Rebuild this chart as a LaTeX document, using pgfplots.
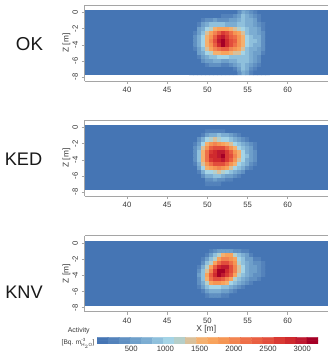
\documentclass[border=0pt]{standalone}
\usepackage{fontspec}
\setmainfont{Liberation Sans}
\usepackage{pgfplots}
\pgfplotsset{compat=1.18}
\definecolor{bgblue}{RGB}{69,117,180}
\definecolor{axgray}{RGB}{165,165,165}
\definecolor{txt}{RGB}{55,55,55}
\pgfplotsset{
 colormap={act}{rgb255=(69,117,180) rgb255=(83,130,187) rgb255=(96,144,194) rgb255=(110,159,202) rgb255=(124,173,210) rgb255=(143,192,220) rgb255=(165,212,230) rgb255=(181,207,202) rgb255=(217,192,154) rgb255=(244,176,111) rgb255=(248,163,92) rgb255=(245,149,83) rgb255=(242,132,80) rgb255=(238,111,72) rgb255=(233,95,66) rgb255=(226,78,60) rgb255=(217,58,52) rgb255=(207,42,46) rgb255=(191,26,48) rgb255=(165,0,38)},
 panel/.style={
  at={(84.5pt,#1)}, anchor=south west, scale only axis, width=243.5pt, height=76pt,
  xmin=34.71, xmax=65.01, ymin=-8.5, ymax=0.95,
  xtick={40,45,50,55,60}, ytick={0,-2,-4,-6,-8},
  axis x line=box, axis y line*=left,
  axis line style={draw=axgray, line width=0.7pt},
  tick style={draw=axgray, line width=0.6pt}, tick align=outside,
  major tick length=3pt,
  xtick pos=bottom, ytick pos=left,
  tick label style={font=\fontsize{7.7}{9}\selectfont, text=txt},
  /pgf/number format/assume math mode=true,
  yticklabel style={rotate=90, anchor=south, xshift=0pt},
  xticklabel style={yshift=0.5pt},
  ylabel={Z [m]}, ylabel style={font=\fontsize{8.3}{10}\selectfont, text=txt, at={(axis description cs:-0.0745,0.5)}, anchor=center, rotate=0},
  colormap name=act, colormap access=piecewise constant,
  point meta min=0, point meta max=3230,
 },
 heatcells/.style={matrix plot*, mesh/cols=20, point meta=explicit, forget plot},
}
\begin{document}
\begin{tikzpicture}[x=1pt,y=1pt]
\path[use as bounding box] (0,0) rectangle (328,355);

\begin{axis}[panel=274pt]
\addplot[fill=bgblue, draw=none, forget plot] coordinates {(34.71,0.3)(65.01,0.3)(65.01,-7.8)(34.71,-7.8)} --cycle;
\addplot[heatcells] table[row sep=\\, meta=c]{x y c\\
48 0 80\\48.5 0 80\\49 0 80\\49.5 0 80\\50 0 80\\50.5 0 80\\51 0 80\\51.5 0 80\\52 0 80\\52.5 0 80\\53 0 80\\53.5 0 80\\54 0 400\\54.5 0 730\\55 0 560\\55.5 0 400\\56 0 240\\56.5 0 80\\57 0 80\\57.5 0 80\\
48 -0.5 80\\48.5 -0.5 80\\49 -0.5 80\\49.5 -0.5 80\\50 -0.5 80\\50.5 -0.5 80\\51 -0.5 80\\51.5 -0.5 80\\52 -0.5 240\\52.5 -0.5 240\\53 -0.5 240\\53.5 -0.5 400\\54 -0.5 560\\54.5 -0.5 890\\55 -0.5 730\\55.5 -0.5 560\\56 -0.5 400\\56.5 -0.5 240\\57 -0.5 80\\57.5 -0.5 80\\
48 -1 80\\48.5 -1 80\\49 -1 80\\49.5 -1 240\\50 -1 400\\50.5 -1 400\\51 -1 560\\51.5 -1 400\\52 -1 400\\52.5 -1 400\\53 -1 560\\53.5 -1 560\\54 -1 730\\54.5 -1 890\\55 -1 730\\55.5 -1 730\\56 -1 560\\56.5 -1 240\\57 -1 80\\57.5 -1 80\\
48 -1.5 80\\48.5 -1.5 80\\49 -1.5 240\\49.5 -1.5 560\\50 -1.5 730\\50.5 -1.5 890\\51 -1.5 890\\51.5 -1.5 890\\52 -1.5 890\\52.5 -1.5 730\\53 -1.5 730\\53.5 -1.5 730\\54 -1.5 890\\54.5 -1.5 890\\55 -1.5 730\\55.5 -1.5 730\\56 -1.5 560\\56.5 -1.5 400\\57 -1.5 240\\57.5 -1.5 80\\
48 -2 80\\48.5 -2 80\\49 -2 560\\49.5 -2 730\\50 -2 1050\\50.5 -2 1210\\51 -2 1530\\51.5 -2 1700\\52 -2 1700\\52.5 -2 1700\\53 -2 1530\\53.5 -2 1370\\54 -2 1210\\54.5 -2 1050\\55 -2 890\\55.5 -2 730\\56 -2 730\\56.5 -2 560\\57 -2 240\\57.5 -2 80\\
48 -2.5 80\\48.5 -2.5 240\\49 -2.5 560\\49.5 -2.5 890\\50 -2.5 1370\\50.5 -2.5 1700\\51 -2.5 2020\\51.5 -2.5 2340\\52 -2.5 2670\\52.5 -2.5 2500\\53 -2.5 2180\\53.5 -2.5 1860\\54 -2.5 1700\\54.5 -2.5 1370\\55 -2.5 890\\55.5 -2.5 730\\56 -2.5 730\\56.5 -2.5 560\\57 -2.5 400\\57.5 -2.5 80\\
48 -3 80\\48.5 -3 400\\49 -3 730\\49.5 -3 1050\\50 -3 1530\\50.5 -3 1860\\51 -3 2340\\51.5 -3 2830\\52 -3 2990\\52.5 -3 2670\\53 -3 2340\\53.5 -3 2180\\54 -3 1860\\54.5 -3 1530\\55 -3 1050\\55.5 -3 890\\56 -3 730\\56.5 -3 730\\57 -3 400\\57.5 -3 80\\
48 -3.5 80\\48.5 -3.5 400\\49 -3.5 730\\49.5 -3.5 1050\\50 -3.5 1530\\50.5 -3.5 2020\\51 -3.5 2500\\51.5 -3.5 2990\\52 -3.5 3150\\52.5 -3.5 2830\\53 -3.5 2500\\53.5 -3.5 2340\\54 -3.5 1860\\54.5 -3.5 1530\\55 -3.5 1050\\55.5 -3.5 890\\56 -3.5 890\\56.5 -3.5 730\\57 -3.5 400\\57.5 -3.5 80\\
48 -4 80\\48.5 -4 400\\49 -4 730\\49.5 -4 1050\\50 -4 1530\\50.5 -4 1860\\51 -4 2340\\51.5 -4 2830\\52 -4 3150\\52.5 -4 2830\\53 -4 2500\\53.5 -4 2180\\54 -4 1860\\54.5 -4 1530\\55 -4 1050\\55.5 -4 890\\56 -4 730\\56.5 -4 730\\57 -4 400\\57.5 -4 80\\
48 -4.5 80\\48.5 -4.5 240\\49 -4.5 560\\49.5 -4.5 890\\50 -4.5 1370\\50.5 -4.5 1700\\51 -4.5 2020\\51.5 -4.5 2180\\52 -4.5 2340\\52.5 -4.5 2340\\53 -4.5 2020\\53.5 -4.5 1860\\54 -4.5 1700\\54.5 -4.5 1370\\55 -4.5 890\\55.5 -4.5 730\\56 -4.5 730\\56.5 -4.5 560\\57 -4.5 400\\57.5 -4.5 80\\
48 -5 80\\48.5 -5 80\\49 -5 560\\49.5 -5 730\\50 -5 1050\\50.5 -5 1210\\51 -5 1530\\51.5 -5 1530\\52 -5 1700\\52.5 -5 1700\\53 -5 1530\\53.5 -5 1370\\54 -5 1370\\54.5 -5 1050\\55 -5 890\\55.5 -5 730\\56 -5 560\\56.5 -5 560\\57 -5 240\\57.5 -5 80\\
48 -5.5 80\\48.5 -5.5 80\\49 -5.5 240\\49.5 -5.5 560\\50 -5.5 730\\50.5 -5.5 890\\51 -5.5 890\\51.5 -5.5 1050\\52 -5.5 1050\\52.5 -5.5 1050\\53 -5.5 890\\53.5 -5.5 890\\54 -5.5 890\\54.5 -5.5 890\\55 -5.5 890\\55.5 -5.5 730\\56 -5.5 560\\56.5 -5.5 400\\57 -5.5 80\\57.5 -5.5 80\\
48 -6 80\\48.5 -6 80\\49 -6 80\\49.5 -6 400\\50 -6 560\\50.5 -6 560\\51 -6 730\\51.5 -6 730\\52 -6 560\\52.5 -6 560\\53 -6 730\\53.5 -6 730\\54 -6 890\\54.5 -6 890\\55 -6 890\\55.5 -6 730\\56 -6 560\\56.5 -6 400\\57 -6 80\\57.5 -6 80\\
48 -6.5 80\\48.5 -6.5 80\\49 -6.5 80\\49.5 -6.5 80\\50 -6.5 240\\50.5 -6.5 400\\51 -6.5 400\\51.5 -6.5 400\\52 -6.5 240\\52.5 -6.5 240\\53 -6.5 400\\53.5 -6.5 560\\54 -6.5 730\\54.5 -6.5 890\\55 -6.5 730\\55.5 -6.5 560\\56 -6.5 400\\56.5 -6.5 240\\57 -6.5 80\\57.5 -6.5 80\\
48 -7 80\\48.5 -7 80\\49 -7 80\\49.5 -7 80\\50 -7 80\\50.5 -7 80\\51 -7 80\\51.5 -7 80\\52 -7 80\\52.5 -7 80\\53 -7 80\\53.5 -7 240\\54 -7 560\\54.5 -7 890\\55 -7 730\\55.5 -7 400\\56 -7 240\\56.5 -7 80\\57 -7 80\\57.5 -7 80\\
48 -7.5 80\\48.5 -7.5 80\\49 -7.5 80\\49.5 -7.5 80\\50 -7.5 80\\50.5 -7.5 80\\51 -7.5 80\\51.5 -7.5 80\\52 -7.5 80\\52.5 -7.5 80\\53 -7.5 80\\53.5 -7.5 80\\54 -7.5 400\\54.5 -7.5 730\\55 -7.5 560\\55.5 -7.5 240\\56 -7.5 80\\56.5 -7.5 80\\57 -7.5 80\\57.5 -7.5 80\\
};
\end{axis}

\begin{axis}[panel=159pt]
\addplot[fill=bgblue, draw=none, forget plot] coordinates {(34.71,0.3)(65.01,0.3)(65.01,-7.8)(34.71,-7.8)} --cycle;
\addplot[heatcells] table[row sep=\\, meta=c]{x y c\\
48 -0.5 80\\48.5 -0.5 80\\49 -0.5 80\\49.5 -0.5 80\\50 -0.5 240\\50.5 -0.5 240\\51 -0.5 240\\51.5 -0.5 240\\52 -0.5 240\\52.5 -0.5 80\\53 -0.5 80\\53.5 -0.5 80\\54 -0.5 80\\54.5 -0.5 80\\55 -0.5 80\\55.5 -0.5 80\\56 -0.5 80\\56.5 -0.5 80\\57 -0.5 80\\57.5 -0.5 80\\
48 -1 80\\48.5 -1 80\\49 -1 80\\49.5 -1 240\\50 -1 560\\50.5 -1 730\\51 -1 730\\51.5 -1 890\\52 -1 730\\52.5 -1 730\\53 -1 560\\53.5 -1 400\\54 -1 240\\54.5 -1 80\\55 -1 80\\55.5 -1 80\\56 -1 80\\56.5 -1 80\\57 -1 80\\57.5 -1 80\\
48 -1.5 80\\48.5 -1.5 80\\49 -1.5 400\\49.5 -1.5 730\\50 -1.5 1050\\50.5 -1.5 1210\\51 -1.5 1370\\51.5 -1.5 1210\\52 -1.5 1050\\52.5 -1.5 1050\\53 -1.5 890\\53.5 -1.5 730\\54 -1.5 560\\54.5 -1.5 400\\55 -1.5 240\\55.5 -1.5 80\\56 -1.5 80\\56.5 -1.5 80\\57 -1.5 80\\57.5 -1.5 80\\
48 -2 80\\48.5 -2 240\\49 -2 560\\49.5 -2 1050\\50 -2 1530\\50.5 -2 1860\\51 -2 2020\\51.5 -2 1860\\52 -2 1700\\52.5 -2 1530\\53 -2 1370\\53.5 -2 1050\\54 -2 890\\54.5 -2 730\\55 -2 560\\55.5 -2 400\\56 -2 240\\56.5 -2 80\\57 -2 80\\57.5 -2 80\\
48 -2.5 80\\48.5 -2.5 400\\49 -2.5 730\\49.5 -2.5 1370\\50 -2.5 1860\\50.5 -2.5 2340\\51 -2.5 2500\\51.5 -2.5 2500\\52 -2.5 2500\\52.5 -2.5 2180\\53 -2.5 1860\\53.5 -2.5 1530\\54 -2.5 1050\\54.5 -2.5 890\\55 -2.5 730\\55.5 -2.5 560\\56 -2.5 240\\56.5 -2.5 80\\57 -2.5 80\\57.5 -2.5 80\\
48 -3 80\\48.5 -3 400\\49 -3 890\\49.5 -3 1530\\50 -3 2180\\50.5 -3 2670\\51 -3 2830\\51.5 -3 2990\\52 -3 2990\\52.5 -3 2670\\53 -3 2340\\53.5 -3 1860\\54 -3 1530\\54.5 -3 1050\\55 -3 730\\55.5 -3 560\\56 -3 400\\56.5 -3 80\\57 -3 80\\57.5 -3 80\\
48 -3.5 80\\48.5 -3.5 400\\49 -3.5 890\\49.5 -3.5 1530\\50 -3.5 2180\\50.5 -3.5 2830\\51 -3.5 2830\\51.5 -3.5 2990\\52 -3.5 3150\\52.5 -3.5 2670\\53 -3.5 2500\\53.5 -3.5 2020\\54 -3.5 1530\\54.5 -3.5 1050\\55 -3.5 890\\55.5 -3.5 560\\56 -3.5 400\\56.5 -3.5 80\\57 -3.5 80\\57.5 -3.5 80\\
48 -4 80\\48.5 -4 400\\49 -4 890\\49.5 -4 1530\\50 -4 2180\\50.5 -4 2670\\51 -4 2830\\51.5 -4 2830\\52 -4 2990\\52.5 -4 2670\\53 -4 2340\\53.5 -4 1860\\54 -4 1370\\54.5 -4 1050\\55 -4 730\\55.5 -4 560\\56 -4 400\\56.5 -4 80\\57 -4 80\\57.5 -4 80\\
48 -4.5 80\\48.5 -4.5 240\\49 -4.5 730\\49.5 -4.5 1370\\50 -4.5 1860\\50.5 -4.5 2180\\51 -4.5 2500\\51.5 -4.5 2500\\52 -4.5 2500\\52.5 -4.5 2180\\53 -4.5 1860\\53.5 -4.5 1530\\54 -4.5 1050\\54.5 -4.5 890\\55 -4.5 730\\55.5 -4.5 400\\56 -4.5 240\\56.5 -4.5 80\\57 -4.5 80\\57.5 -4.5 80\\
48 -5 80\\48.5 -5 80\\49 -5 560\\49.5 -5 1050\\50 -5 1530\\50.5 -5 1700\\51 -5 1860\\51.5 -5 2020\\52 -5 1860\\52.5 -5 1700\\53 -5 1370\\53.5 -5 1050\\54 -5 890\\54.5 -5 730\\55 -5 400\\55.5 -5 240\\56 -5 80\\56.5 -5 80\\57 -5 80\\57.5 -5 80\\
48 -5.5 80\\48.5 -5.5 80\\49 -5.5 240\\49.5 -5.5 730\\50 -5.5 1050\\50.5 -5.5 1050\\51 -5.5 1210\\51.5 -5.5 1370\\52 -5.5 1210\\52.5 -5.5 1050\\53 -5.5 890\\53.5 -5.5 730\\54 -5.5 560\\54.5 -5.5 400\\55 -5.5 80\\55.5 -5.5 80\\56 -5.5 80\\56.5 -5.5 80\\57 -5.5 80\\57.5 -5.5 80\\
48 -6 80\\48.5 -6 80\\49 -6 80\\49.5 -6 400\\50 -6 730\\50.5 -6 730\\51 -6 890\\51.5 -6 890\\52 -6 730\\52.5 -6 560\\53 -6 560\\53.5 -6 400\\54 -6 240\\54.5 -6 80\\55 -6 80\\55.5 -6 80\\56 -6 80\\56.5 -6 80\\57 -6 80\\57.5 -6 80\\
48 -6.5 80\\48.5 -6.5 80\\49 -6.5 80\\49.5 -6.5 80\\50 -6.5 400\\50.5 -6.5 400\\51 -6.5 560\\51.5 -6.5 400\\52 -6.5 400\\52.5 -6.5 240\\53 -6.5 240\\53.5 -6.5 80\\54 -6.5 80\\54.5 -6.5 80\\55 -6.5 80\\55.5 -6.5 80\\56 -6.5 80\\56.5 -6.5 80\\57 -6.5 80\\57.5 -6.5 80\\
48 -7 80\\48.5 -7 80\\49 -7 80\\49.5 -7 80\\50 -7 240\\50.5 -7 240\\51 -7 240\\51.5 -7 240\\52 -7 80\\52.5 -7 80\\53 -7 80\\53.5 -7 80\\54 -7 80\\54.5 -7 80\\55 -7 80\\55.5 -7 80\\56 -7 80\\56.5 -7 80\\57 -7 80\\57.5 -7 80\\
};
\end{axis}

\begin{axis}[panel=43.3pt, xlabel={X [m]}, xlabel style={font=\fontsize{8.5}{10}\selectfont, text=txt, at={(axis description cs:0.5,-0.235)}, anchor=center}]
\addplot[fill=bgblue, draw=none, forget plot] coordinates {(34.71,0.3)(65.01,0.3)(65.01,-7.8)(34.71,-7.8)} --cycle;
\addplot[heatcells] table[row sep=\\, meta=c]{x y c\\
48 -1 80\\48.5 -1 80\\49 -1 80\\49.5 -1 80\\50 -1 80\\50.5 -1 240\\51 -1 400\\51.5 -1 560\\52 -1 560\\52.5 -1 560\\53 -1 560\\53.5 -1 400\\54 -1 400\\54.5 -1 240\\55 -1 240\\55.5 -1 80\\56 -1 80\\56.5 -1 80\\57 -1 80\\57.5 -1 80\\
48 -1.5 80\\48.5 -1.5 80\\49 -1.5 80\\49.5 -1.5 80\\50 -1.5 240\\50.5 -1.5 560\\51 -1.5 890\\51.5 -1.5 1210\\52 -1.5 1530\\52.5 -1.5 1700\\53 -1.5 1700\\53.5 -1.5 1210\\54 -1.5 890\\54.5 -1.5 730\\55 -1.5 560\\55.5 -1.5 240\\56 -1.5 80\\56.5 -1.5 80\\57 -1.5 80\\57.5 -1.5 80\\
48 -2 80\\48.5 -2 80\\49 -2 80\\49.5 -2 240\\50 -2 560\\50.5 -2 890\\51 -2 1210\\51.5 -2 1700\\52 -2 2020\\52.5 -2 2020\\53 -2 1860\\53.5 -2 1700\\54 -2 1050\\54.5 -2 890\\55 -2 560\\55.5 -2 560\\56 -2 240\\56.5 -2 240\\57 -2 80\\57.5 -2 80\\
48 -2.5 80\\48.5 -2.5 80\\49 -2.5 80\\49.5 -2.5 400\\50 -2.5 890\\50.5 -2.5 1210\\51 -2.5 1700\\51.5 -2.5 2180\\52 -2.5 2500\\52.5 -2.5 2500\\53 -2.5 2180\\53.5 -2.5 1860\\54 -2.5 1210\\54.5 -2.5 890\\55 -2.5 730\\55.5 -2.5 560\\56 -2.5 400\\56.5 -2.5 400\\57 -2.5 240\\57.5 -2.5 80\\
48 -3 80\\48.5 -3 80\\49 -3 240\\49.5 -3 730\\50 -3 1210\\50.5 -3 1700\\51 -3 2340\\51.5 -3 2830\\52 -3 2990\\52.5 -3 2990\\53 -3 2500\\53.5 -3 2020\\54 -3 1370\\54.5 -3 1050\\55 -3 730\\55.5 -3 560\\56 -3 560\\56.5 -3 400\\57 -3 240\\57.5 -3 80\\
48 -3.5 80\\48.5 -3.5 80\\49 -3.5 400\\49.5 -3.5 890\\50 -3.5 1370\\50.5 -3.5 2020\\51 -3.5 2670\\51.5 -3.5 3150\\52 -3.5 3150\\52.5 -3.5 2830\\53 -3.5 2500\\53.5 -3.5 2020\\54 -3.5 1370\\54.5 -3.5 1050\\55 -3.5 730\\55.5 -3.5 560\\56 -3.5 560\\56.5 -3.5 400\\57 -3.5 240\\57.5 -3.5 80\\
48 -4 80\\48.5 -4 80\\49 -4 560\\49.5 -4 890\\50 -4 1700\\50.5 -4 2340\\51 -4 2830\\51.5 -4 3150\\52 -4 2990\\52.5 -4 2670\\53 -4 2340\\53.5 -4 1700\\54 -4 1210\\54.5 -4 890\\55 -4 730\\55.5 -4 560\\56 -4 400\\56.5 -4 400\\57 -4 240\\57.5 -4 80\\
48 -4.5 80\\48.5 -4.5 80\\49 -4.5 400\\49.5 -4.5 890\\50 -4.5 1530\\50.5 -4.5 2180\\51 -4.5 2500\\51.5 -4.5 2500\\52 -4.5 2340\\52.5 -4.5 2020\\53 -4.5 1700\\53.5 -4.5 1210\\54 -4.5 890\\54.5 -4.5 730\\55 -4.5 560\\55.5 -4.5 400\\56 -4.5 400\\56.5 -4.5 240\\57 -4.5 80\\57.5 -4.5 80\\
48 -5 80\\48.5 -5 80\\49 -5 400\\49.5 -5 730\\50 -5 1210\\50.5 -5 1700\\51 -5 1860\\51.5 -5 1860\\52 -5 1700\\52.5 -5 1530\\53 -5 1050\\53.5 -5 890\\54 -5 730\\54.5 -5 560\\55 -5 400\\55.5 -5 240\\56 -5 80\\56.5 -5 80\\57 -5 80\\57.5 -5 80\\
48 -5.5 80\\48.5 -5.5 80\\49 -5.5 240\\49.5 -5.5 560\\50 -5.5 890\\50.5 -5.5 1050\\51 -5.5 1050\\51.5 -5.5 1050\\52 -5.5 890\\52.5 -5.5 890\\53 -5.5 730\\53.5 -5.5 560\\54 -5.5 400\\54.5 -5.5 240\\55 -5.5 80\\55.5 -5.5 80\\56 -5.5 80\\56.5 -5.5 80\\57 -5.5 80\\57.5 -5.5 80\\
48 -6 80\\48.5 -6 80\\49 -6 80\\49.5 -6 240\\50 -6 560\\50.5 -6 730\\51 -6 730\\51.5 -6 730\\52 -6 560\\52.5 -6 560\\53 -6 400\\53.5 -6 240\\54 -6 80\\54.5 -6 80\\55 -6 80\\55.5 -6 80\\56 -6 80\\56.5 -6 80\\57 -6 80\\57.5 -6 80\\
48 -6.5 80\\48.5 -6.5 80\\49 -6.5 80\\49.5 -6.5 80\\50 -6.5 240\\50.5 -6.5 400\\51 -6.5 400\\51.5 -6.5 400\\52 -6.5 240\\52.5 -6.5 240\\53 -6.5 80\\53.5 -6.5 80\\54 -6.5 80\\54.5 -6.5 80\\55 -6.5 80\\55.5 -6.5 80\\56 -6.5 80\\56.5 -6.5 80\\57 -6.5 80\\57.5 -6.5 80\\
};
\end{axis}

% colour bar
\begin{axis}[at={(97pt,11pt)}, anchor=south west, scale only axis, width=221pt, height=6.7pt,
  xmin=0, xmax=3230, ymin=0, ymax=1, ytick=\empty,
  xtick={500,1000,1500,2000,2500,3000},
  xtick style={draw=none}, xtick pos=bottom, axis line style={draw=none},
  tick label style={font=\fontsize{7.7}{9}\selectfont, text=txt},
  /pgf/number format/assume math mode=true, /pgf/number format/set thousands separator={},
  xticklabel style={yshift=1pt},
  colormap name=act, colormap access=piecewise constant,
  point meta min=0, point meta max=3230]
\addplot[matrix plot*, mesh/cols=20, point meta=explicit, forget plot] table[row sep=\\, meta=c]{x y c\\
81 0.25 81\\242 0.25 242\\404 0.25 404\\565 0.25 565\\727 0.25 727\\888 0.25 888\\1050 0.25 1050\\1211 0.25 1211\\1373 0.25 1373\\1534 0.25 1534\\1696 0.25 1696\\1857 0.25 1857\\2019 0.25 2019\\2180 0.25 2180\\2342 0.25 2342\\2503 0.25 2503\\2665 0.25 2665\\2826 0.25 2826\\2988 0.25 2988\\3149 0.25 3149\\
81 0.75 81\\242 0.75 242\\404 0.75 404\\565 0.75 565\\727 0.75 727\\888 0.75 888\\1050 0.75 1050\\1211 0.75 1211\\1373 0.75 1373\\1534 0.75 1534\\1696 0.75 1696\\1857 0.75 1857\\2019 0.75 2019\\2180 0.75 2180\\2342 0.75 2342\\2503 0.75 2503\\2665 0.75 2665\\2826 0.75 2826\\2988 0.75 2988\\3149 0.75 3149\\
};
\end{axis}

\node[font=\fontsize{18.7}{20}\selectfont, text=black!90] at (29.5,311) {OK};
\node[font=\fontsize{18.2}{20}\selectfont, text=black!90] at (23.5,196) {KED};
\node[font=\fontsize{18.2}{20}\selectfont, text=black!90] at (24,63) {KNV};
\node[font=\fontsize{6.9}{8}\selectfont, text=txt, inner sep=0pt] at (78.7,24.5) {Activity};
\node[font=\fontsize{6.6}{8}\selectfont, text=txt, inner sep=0pt] at (78,11.5) {[Bq. m$^{\mbox{\fontsize{4.5}{5}\selectfont -3}}_{\mbox{\fontsize{4.5}{5}\selectfont H$_2$O}}$]};
\end{tikzpicture}
\end{document}
